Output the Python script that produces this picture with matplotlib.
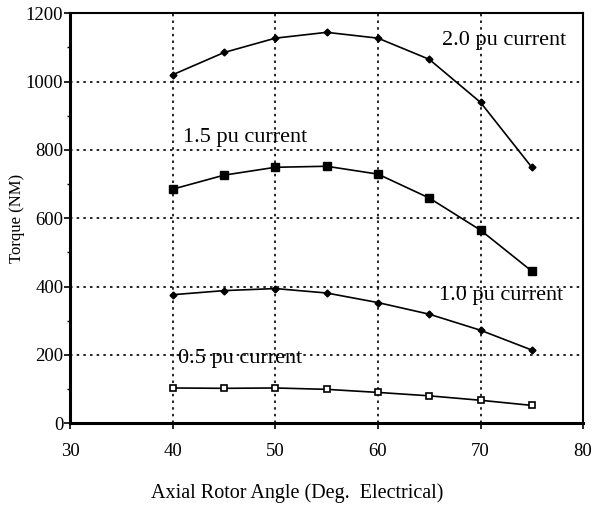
import numpy as np
import matplotlib
matplotlib.use("Agg")
import matplotlib.pyplot as plt
from matplotlib.ticker import MultipleLocator

# rotor angle (deg electrical)
angle = [40, 45, 50, 55, 60, 65, 70, 75]

# torque (NM) for each current level
torque_20 = [1020, 1085, 1127, 1144, 1127, 1065, 939, 749]
torque_15 = [685, 726, 749, 752, 729, 659, 565, 445]
torque_10 = [376, 388, 394, 381, 353, 319, 272, 214]
torque_05 = [103, 102, 103, 99, 90, 80, 67, 52]

plt.rcParams['font.family'] = ['Liberation Serif', 'DejaVu Serif']

fig = plt.figure(figsize=(5.95, 5.08), dpi=100)
ax = fig.add_axes([0.118, 0.167, 0.862, 0.807])

ax.plot(angle, torque_20, color='black', lw=1.2, marker='D', ms=3.5, mfc='black')
ax.plot(angle, torque_15, color='black', lw=1.2, marker='s', ms=6, mfc='black')
ax.plot(angle, torque_10, color='black', lw=1.2, marker='D', ms=3.5, mfc='black')
ax.plot(angle, torque_05, color='black', lw=1.2, marker='s', ms=5, mfc='white', mew=1.2)

ax.text(66.2, 1121, '2.0 pu current', fontsize=16, va='center')
ax.text(41.0, 837, '1.5 pu current', fontsize=16, va='center')
ax.text(66.0, 375, '1.0 pu current', fontsize=16, va='center')
ax.text(40.5, 190, '0.5 pu current', fontsize=16, va='center')

ax.set_xlim(30, 80)
ax.set_ylim(0, 1200)
ax.set_xticks([30, 40, 50, 60, 70, 80])
ax.set_yticks([0, 200, 400, 600, 800, 1000, 1200])
ax.yaxis.set_minor_locator(MultipleLocator(100))
ax.grid(True, which='major', color='black', linestyle=(0, (1.5, 2.5)), lw=1.2)
ax.tick_params(axis='both', labelsize=13.5, direction='out', length=4, width=1.2)
ax.tick_params(axis='y', which='minor', length=2.5, width=1)
ax.tick_params(axis='y', pad=1)
ax.tick_params(axis='x', pad=10)

ax.spines['left'].set_linewidth(2.2)
ax.spines['bottom'].set_linewidth(2.2)
ax.spines['top'].set_linewidth(1.5)
ax.spines['right'].set_linewidth(1.5)

ax.set_ylabel('Torque (NM)', fontsize=12)
ax.yaxis.set_label_coords(-0.088, 0.5)
fig.text(0.5, 0.02, 'Axial Rotor Angle (Deg.  Electrical)', fontsize=14.5, ha='center')

fig.savefig('out.png', dpi=100)
